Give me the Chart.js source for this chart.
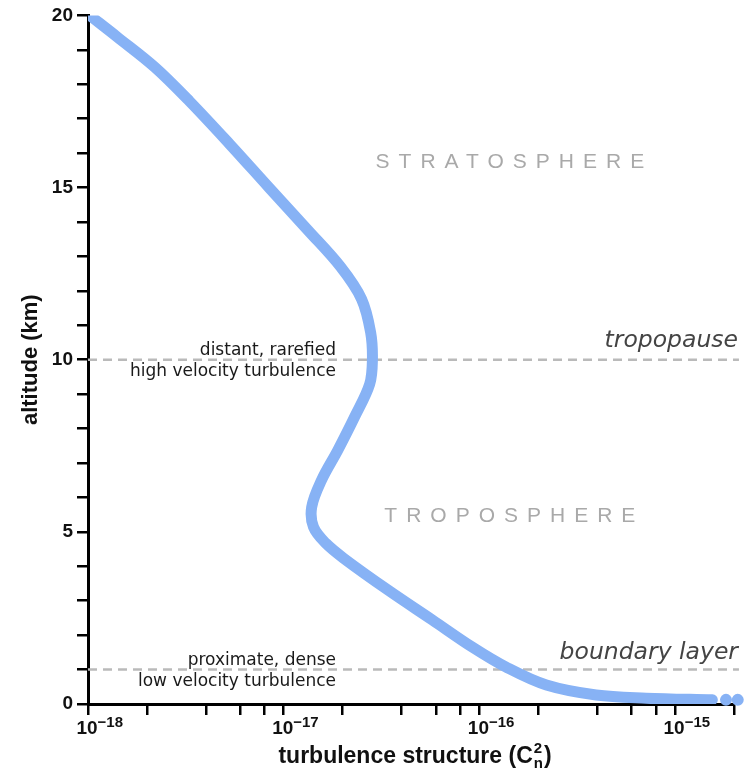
<!DOCTYPE html>
<html>
<head>
<meta charset="utf-8">
<script src="https://cdn.jsdelivr.net/npm/chart.js@4.4.0/dist/chart.umd.min.js"></script>
<style>
  html, body { margin: 0; padding: 0; background: #fff; }
  #wrap { width: 754px; height: 770px; }
</style>
</head>
<body>
<div id="wrap"><canvas id="cn2Chart" width="754" height="770"></canvas></div>
<script>
// Cn2 profile
const altitudeKm = [20, 19.36, 18.49, 17.50, 16.26, 15.01, 13.76, 12.70, 11.76, 10.80, 10.0, 9.29, 8.33, 7.37, 6.5, 5.72, 5.14, 4.67, 4.21, 3.28, 2.44, 1.65, 1.07, 0.55, 0.26, 0.17, 0.12];
const cn2Values = [1.02e-18, 1.42e-18, 2.20e-18, 3.31e-18, 5.30e-18, 8.38e-18, 1.33e-17, 1.95e-17, 2.50e-17, 2.78e-17, 2.84e-17, 2.75e-17, 2.30e-17, 1.89e-17, 1.56e-17, 1.39e-17, 1.42e-17, 1.64e-17, 2.05e-17, 3.47e-17, 5.75e-17, 9.21e-17, 1.37e-16, 2.20e-16, 3.95e-16, 7.11e-16, 1.55e-15];
const tailCn2 = [1.82e-15, 2.09e-15];
const tailAltitude = [0.12, 0.12];

const layerAltitudes = [10, 1];
const layerNames = ["tropopause", "boundary layer"];
const layerNotes = [["distant, rarefied", "high velocity turbulence"], ["proximate, dense", "low velocity turbulence"]];
const regionNames = ["STRATOSPHERE", "TROPOSPHERE"];

const xMin = 1e-18, xMax = 2e-15;
const dashEnd = 2.12e-15;
const xTickValues = [1e-18, 2e-18, 4e-18, 6e-18, 8e-18, 1e-17, 2e-17, 4e-17, 6e-17, 8e-17, 1e-16, 2e-16, 4e-16, 6e-16, 8e-16, 1e-15, 2e-15];
const xMajorExponents = [-18, -17, -16, -15];
const yTickLabels = [0, 5, 10, 15, 20];

const curveColor = "#87b2f5";
const dashColor = "#bababa";

const profile = cn2Values.map((v, i) => ({ x: v, y: altitudeKm[i] }));
const tail = tailCn2.map((v, i) => ({ x: v, y: tailAltitude[i] }));
const layerLines = layerAltitudes.map(a => ({
    data: [{ x: xMin, y: a }, { x: dashEnd, y: a }],
    showLine: true,
    borderColor: dashColor,
    borderWidth: 2.5,
    borderDash: [9, 6],
    pointRadius: 0,
    clip: false
}));

function toSuper(n) {
    return String(n).replace("-", "\u2212");
}

const annotations = {
    id: "annotations",
    afterDraw(chart) {
        const ctx = chart.ctx;
        const x = chart.scales.x, y = chart.scales.y;
        const area = chart.chartArea;
        ctx.save();

        // x tick labels 10^n
        ctx.fillStyle = "#111";
        xMajorExponents.forEach(e => {
            const px = x.getPixelForValue(Math.pow(10, e));
            ctx.font = "bold 19px 'Liberation Sans', Arial, sans-serif";
            const w = ctx.measureText("10").width;
            ctx.textAlign = "left";
            ctx.textBaseline = "alphabetic";
            ctx.fillText("10", px - w / 2 - 1, 734);
            ctx.font = "bold 15px 'Liberation Sans', Arial, sans-serif";
            ctx.fillText(toSuper(e), px + w / 2 - 1, 727);
        });

        // x axis title with C_n^2
        const t1 = "turbulence structure (C";
        ctx.font = "bold 23px 'Liberation Sans', Arial, sans-serif";
        const w1 = ctx.measureText(t1).width;
        const w2 = ctx.measureText(")").width;
        ctx.font = "bold 15px 'Liberation Sans', Arial, sans-serif";
        const wScript = Math.max(ctx.measureText("2").width, ctx.measureText("n").width);
        const total = w1 + wScript + 2 + w2;
        let sx = (area.left + area.right) / 2 - total / 2 + 4;
        const base = 763;
        ctx.font = "bold 23px 'Liberation Sans', Arial, sans-serif";
        ctx.fillText(t1, sx, base);
        ctx.font = "bold 15px 'Liberation Sans', Arial, sans-serif";
        ctx.fillText("2", sx + w1 + 1, base - 10);
        ctx.fillText("n", sx + w1 + 1, base + 5);
        ctx.font = "bold 23px 'Liberation Sans', Arial, sans-serif";
        ctx.fillText(")", sx + w1 + wScript + 2, base);

        // notes beside the dashed layer lines
        ctx.textAlign = "right";
        layerAltitudes.forEach((a, i) => {
            const py = y.getPixelForValue(a);
            ctx.fillStyle = "#1a1a1a";
            ctx.font = "17px 'DejaVu Sans', Verdana, sans-serif";
            ctx.fillText(layerNotes[i][0], area.left + 248, py - 5);
            ctx.fillText(layerNotes[i][1], area.left + 248, py + 16);
            ctx.fillStyle = "#444";
            ctx.font = "italic 23.5px 'DejaVu Sans', Verdana, sans-serif";
            ctx.fillText(layerNames[i], area.right + 4, py - (i === 0 ? 13 : 11));
        });

        // region labels
        ctx.fillStyle = "#a9a9a9";
        ctx.font = "21px 'Liberation Sans', Arial, sans-serif";
        ctx.letterSpacing = "9px";
        ctx.textAlign = "left";
        const regionY = [y.getPixelForValue(15.56), y.getPixelForValue(5.28)];
        const regionCx = area.left + 0.653 * (area.right - area.left);
        regionNames.forEach((name, i) => {
            const w = ctx.measureText(name).width - 9;
            ctx.fillText(name, regionCx - w / 2, regionY[i]);
        });
        ctx.restore();
    }
};

new Chart(document.getElementById("cn2Chart"), {
    type: "scatter",
    data: {
        datasets: [
            {
                data: profile,
                showLine: true,
                borderColor: curveColor,
                borderWidth: 11,
                borderCapStyle: "round",
                borderJoinStyle: "round",
                tension: 0.35,
                pointRadius: 0
            },
            {
                data: tail,
                backgroundColor: curveColor,
                pointRadius: 6,
                pointBorderWidth: 0,
                clip: false
            },
            ...layerLines
        ]
    },
    plugins: [annotations],
    options: {
        responsive: false,
        animation: false,
        events: [],
        layout: { padding: { top: 15, right: 20, left: 0, bottom: 0 } },
        plugins: { legend: { display: false }, tooltip: { enabled: false } },
        scales: {
            x: {
                type: "logarithmic",
                min: xMin,
                max: xMax,
                afterBuildTicks: scale => { scale.ticks = xTickValues.map(v => ({ value: v })); },
                afterFit: scale => { scale.height = 66; },
                ticks: { display: false, autoSkip: false },
                grid: { drawOnChartArea: false, drawTicks: true, tickLength: 11, color: "#000", lineWidth: 2.5 },
                border: { display: true, color: "#000", width: 3 }
            },
            y: {
                min: 0,
                max: 20,
                afterFit: scale => { scale.width = 88; },
                ticks: {
                    stepSize: 1,
                    autoSkip: false,
                    padding: 4,
                    color: "#111",
                    font: { family: "'Liberation Sans', Arial, sans-serif", size: 19, weight: "bold" },
                    callback: v => yTickLabels.includes(v) ? v : ""
                },
                title: {
                    display: true,
                    text: "altitude (km)",
                    color: "#111",
                    padding: { top: 18, bottom: 0 },
                    font: { family: "'Liberation Sans', Arial, sans-serif", size: 22, weight: "bold" }
                },
                grid: { drawOnChartArea: false, drawTicks: true, tickLength: 11, color: "#000", lineWidth: 2.5 },
                border: { display: true, color: "#000", width: 3 }
            }
        }
    }
});
</script>
</body>
</html>
